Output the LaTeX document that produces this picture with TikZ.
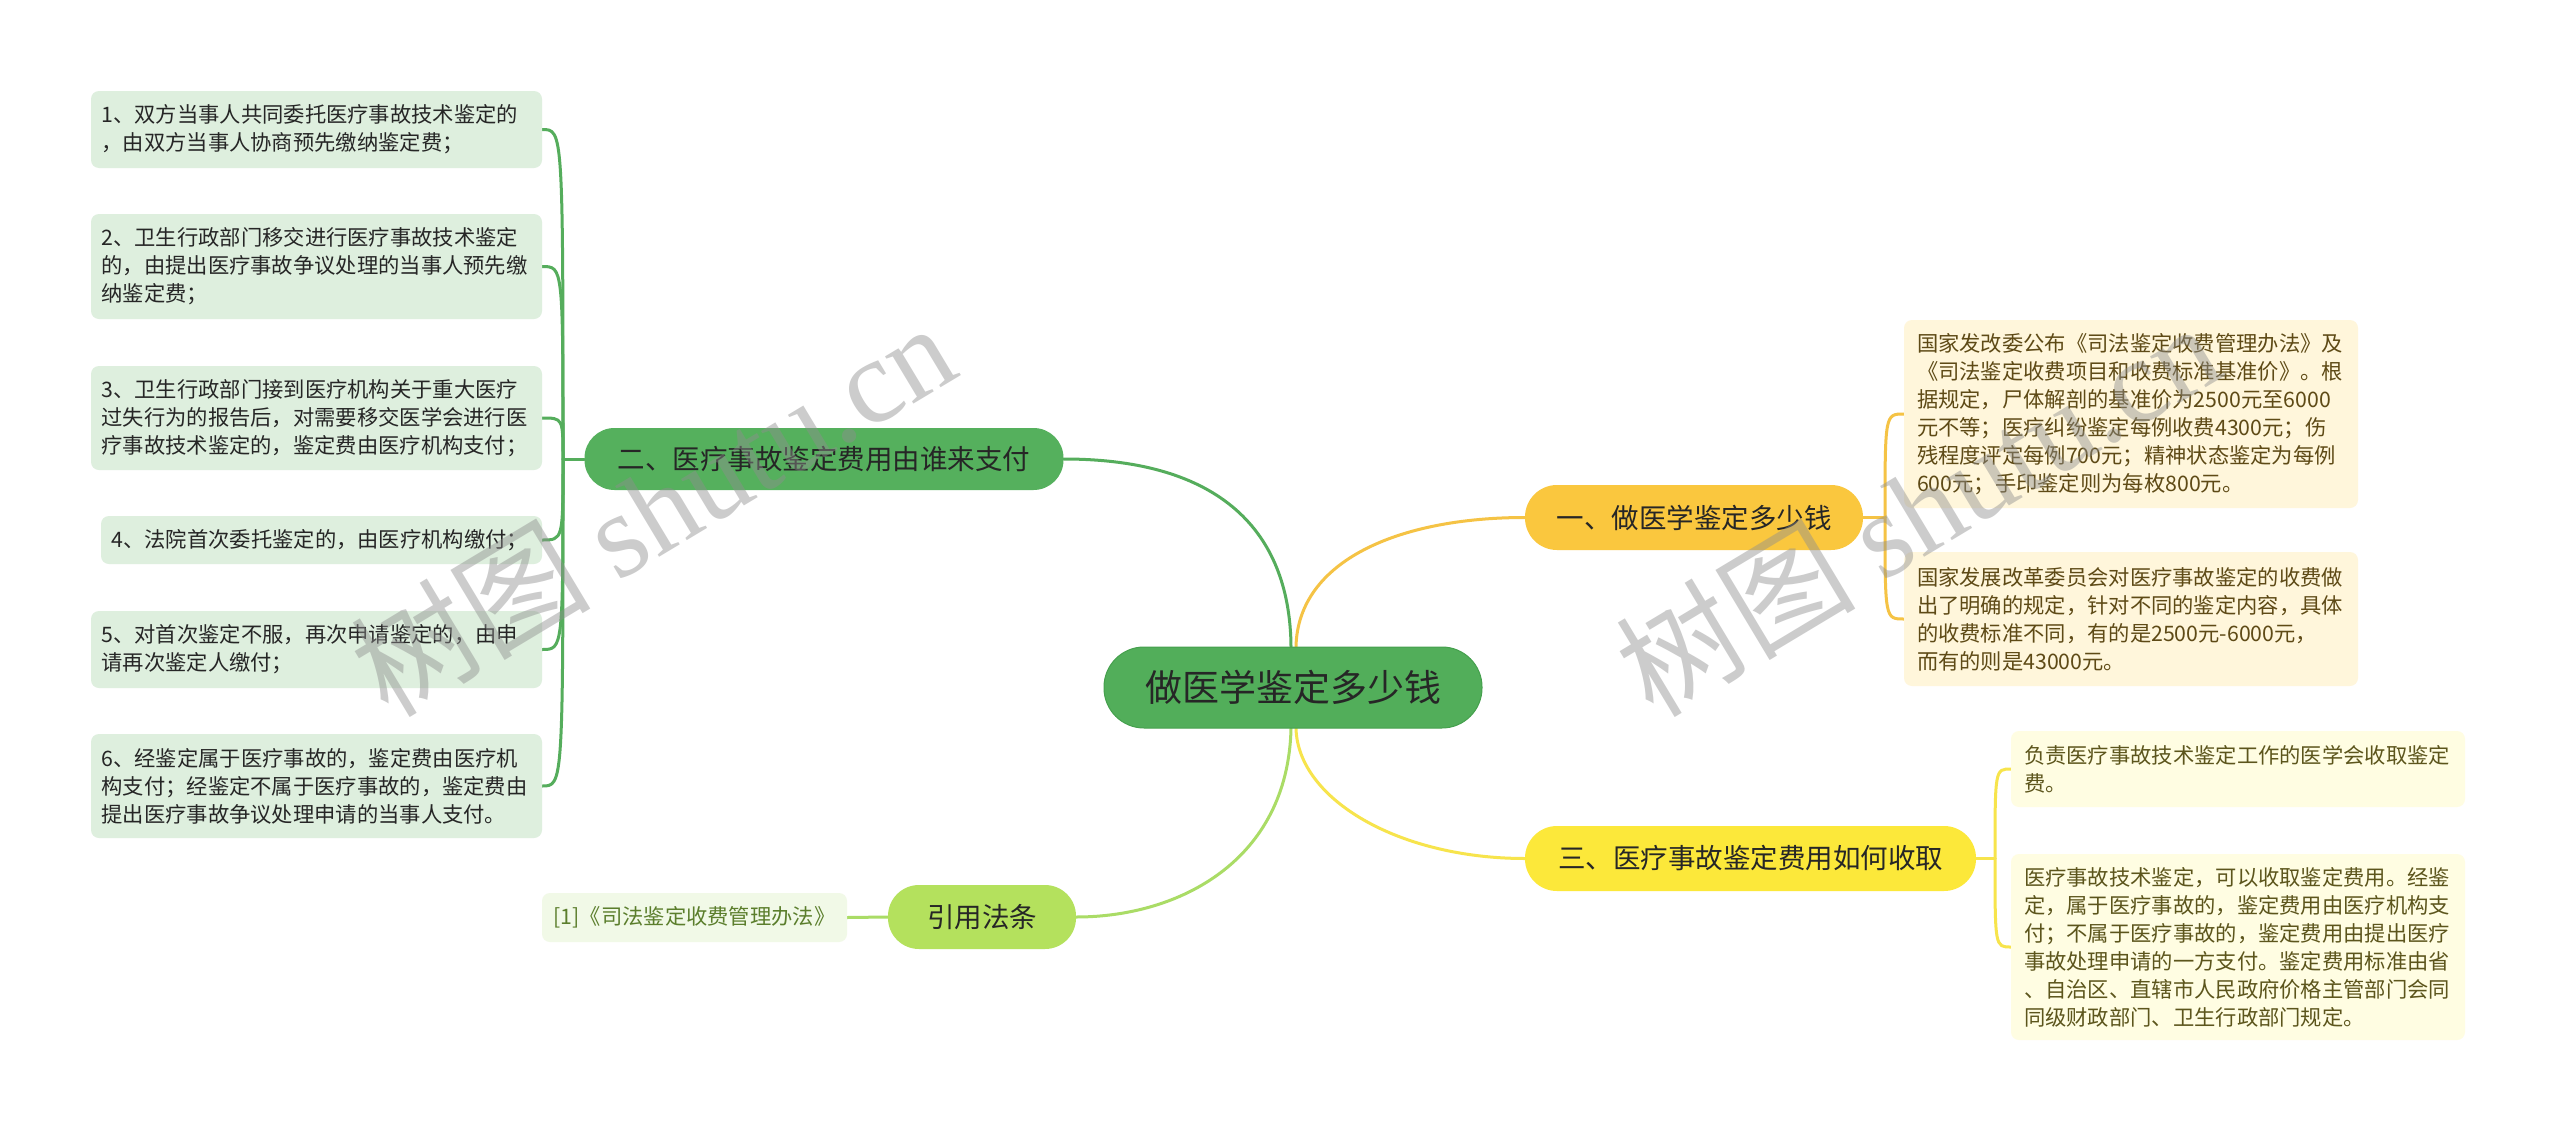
\documentclass[tikz,border=0pt]{standalone}
\usepackage{fontspec}
\setmainfont{Noto Sans CJK SC}
\newfontfamily\wmlatin{Liberation Serif}
\usetikzlibrary{calc}
\pgfdeclarelayer{bgzero}
\pgfdeclarelayer{bglines}
\pgfdeclarelayer{wmark}
\pgfsetlayers{bgzero,bglines,main,wmark}
\definecolor{rootfill}{HTML}{52AE5A}
\definecolor{rootdraw}{HTML}{45A04D}
\definecolor{greenfill}{HTML}{55B05D}
\definecolor{greenline}{HTML}{55AD5C}
\definecolor{lgboxfill}{HTML}{DEEFDE}
\definecolor{darktext}{HTML}{262626}
\definecolor{orangefill}{HTML}{FAC73E}
\definecolor{orangeline}{HTML}{F5C345}
\definecolor{aboxfill}{HTML}{FFF6DB}
\definecolor{atext}{HTML}{5E4A16}
\definecolor{yellowfill}{HTML}{FCE83A}
\definecolor{yellowline}{HTML}{F7E44C}
\definecolor{cboxfill}{HTML}{FFFDE2}
\definecolor{ctext}{HTML}{5C551C}
\definecolor{limefill}{HTML}{B4E15D}
\definecolor{limeline}{HTML}{AADC66}
\definecolor{refboxfill}{HTML}{F1F9E7}
\definecolor{reftext}{HTML}{5B7E2C}
\definecolor{wmgray}{HTML}{8E8E8E}
\begin{document}
\begin{tikzpicture}[x=1pt,y=-1pt,
  topic/.style={rectangle, inner sep=0pt, text=darktext, font=\fontsize{27.5}{30}\selectfont},
  leaf/.style={rectangle, rounded corners=8pt, inner ysep=0pt, align=left, font=\fontsize{21.3}{28}\selectfont},
  lbox/.style={leaf, fill=lgboxfill, text=darktext, inner xsep=10.5pt, text width=430pt},
  abox/.style={leaf, fill=aboxfill, text=atext, inner xsep=13pt, text width=428pt},
  cbox/.style={leaf, fill=cboxfill, text=ctext, inner xsep=13pt, text width=428pt},
  conn/.style={line width=3pt, line cap=round},
  wm/.style={rotate=31, text=wmgray, opacity=0.45, font=\fontsize{120}{120}\selectfont}
]
\begin{pgfonlayer}{bgzero}
\fill[white] (0,0) rectangle (2560,1135);
\end{pgfonlayer}
\useasboundingbox (0,0) rectangle (2560,1135);

% central topic
\node[topic, fill=rootfill, draw=rootdraw, line width=1pt, rounded corners=40pt,
  minimum width=378pt, minimum height=81pt, font=\fontsize{37}{40}\selectfont] (root) at (1293,687.5) {做医学鉴定多少钱};

% main branches
\node[topic, fill=greenfill, rounded corners=30pt, minimum width=479pt, minimum height=62pt] (n2) at (824,459) {二、医疗事故鉴定费用由谁来支付};
\node[topic, fill=orangefill, rounded corners=32pt, minimum width=338pt, minimum height=65pt] (n1) at (1694,517.5) {一、做医学鉴定多少钱};
\node[topic, fill=yellowfill, rounded corners=32pt, minimum width=451pt, minimum height=65pt] (n3) at (1750.5,858.5) {三、医疗事故鉴定费用如何收取};
\node[topic, fill=limefill, rounded corners=31pt, minimum width=188pt, minimum height=64pt] (nref) at (982,917) {引用法条};

% left leaves
\node[lbox, minimum height=77pt] (L1) at (316.5,129.5) {1、双方当事人共同委托医疗事故技术鉴定的\\，由双方当事人协商预先缴纳鉴定费；};
\node[lbox, minimum height=105pt] (L2) at (316.5,266.5) {2、卫生行政部门移交进行医疗事故技术鉴定\\的，由提出医疗事故争议处理的当事人预先缴\\纳鉴定费；};
\node[lbox, minimum height=104pt] (L3) at (316.5,418) {3、卫生行政部门接到医疗机构关于重大医疗\\过失行为的报告后，对需要移交医学会进行医\\疗事故技术鉴定的，鉴定费由医疗机构支付；};
\node[lbox, text width=420pt, minimum height=48pt] (L4) at (321.5,540) {4、法院首次委托鉴定的，由医疗机构缴付；};
\node[lbox, minimum height=77pt] (L5) at (316.5,649.5) {5、对首次鉴定不服，再次申请鉴定的，由申\\请再次鉴定人缴付；};
\node[lbox, minimum height=104pt] (L6) at (316.5,786) {6、经鉴定属于医疗事故的，鉴定费由医疗机\\构支付；经鉴定不属于医疗事故的，鉴定费由\\提出医疗事故争议处理申请的当事人支付。};

% reference leaf
\node[leaf, fill=refboxfill, text=reftext, inner xsep=10pt, minimum width=305pt, minimum height=49pt, align=center] (R1) at (694.5,917.5) {[1]《司法鉴定收费管理办法》};

% right leaves
\node[abox, minimum height=188pt] (A1) at (2131,414) {国家发改委公布《司法鉴定收费管理办法》及\\《司法鉴定收费项目和收费标准基准价》。根\\据规定，尸体解剖的基准价为2500元至6000\\元不等；医疗纠纷鉴定每例收费4300元；伤\\残程度评定每例700元；精神状态鉴定为每例\\600元；手印鉴定则为每枚800元。};
\node[abox, minimum height=134pt] (A2) at (2131,619) {国家发展改革委员会对医疗事故鉴定的收费做\\出了明确的规定，针对不同的鉴定内容，具体\\的收费标准不同，有的是2500元-6000元，\\而有的则是43000元。};
\node[cbox, minimum height=76pt] (C1) at (2238,769) {负责医疗事故技术鉴定工作的医学会收取鉴定\\费。};
\node[cbox, minimum height=186pt] (C2) at (2238,947) {医疗事故技术鉴定，可以收取鉴定费用。经鉴\\定，属于医疗事故的，鉴定费用由医疗机构支\\付；不属于医疗事故的，鉴定费用由提出医疗\\事故处理申请的一方支付。鉴定费用标准由省\\、自治区、直辖市人民政府价格主管部门会同\\同级财政部门、卫生行政部门规定。};

% junctions
\coordinate (jL) at (563,459);
\coordinate (jA) at (1885,517.5);
\coordinate (jC) at (1995,858.5);

\begin{pgfonlayer}{bglines}
% from the central topic
\draw[conn, draw=greenline] ([xshift=-2pt]root.north) .. controls (1290,540) and (1230,459) .. (n2.east);
\draw[conn, draw=orangeline] ([xshift=3pt]root.north) .. controls (1298,560) and (1400,517.5) .. (n1.west);
\draw[conn, draw=yellowline] ([xshift=3pt]root.south) .. controls (1298,800) and (1400,858.5) .. (n3.west);
\draw[conn, draw=limeline] ([xshift=-2pt]root.south) .. controls (1288,860) and (1180,917) .. (nref.east);
% left branch
\draw[conn, draw=greenline] (n2.west) -- (jL);
\foreach \k in {L1,L2,L3,L4,L5,L6}
  \draw[conn, draw=greenline] (jL) .. controls (jL |- \k.east) and (jL |- \k.east) .. (\k.east);
% reference
\draw[conn, draw=limeline] (nref.west) -- (R1.east);
% right branch one
\draw[conn, draw=orangeline] (n1.east) -- (jA);
\foreach \k in {A1,A2}
  \draw[conn, draw=orangeline] (jA) .. controls (jA |- \k.west) and (jA |- \k.west) .. (\k.west);
% right branch three
\draw[conn, draw=yellowline] (n3.east) -- (jC);
\foreach \k in {C1,C2}
  \draw[conn, draw=yellowline] (jC) .. controls (jC |- \k.west) and (jC |- \k.west) .. (\k.west);
\end{pgfonlayer}

% watermarks
\begin{pgfonlayer}{wmark}
\node[wm] (wm1) at (652,508) {树图 {\wmlatin shutu.cn}};
\node[wm] (wm2) at (1917,508) {树图 {\wmlatin shutu.cn}};
\end{pgfonlayer}
\end{tikzpicture}
\end{document}
